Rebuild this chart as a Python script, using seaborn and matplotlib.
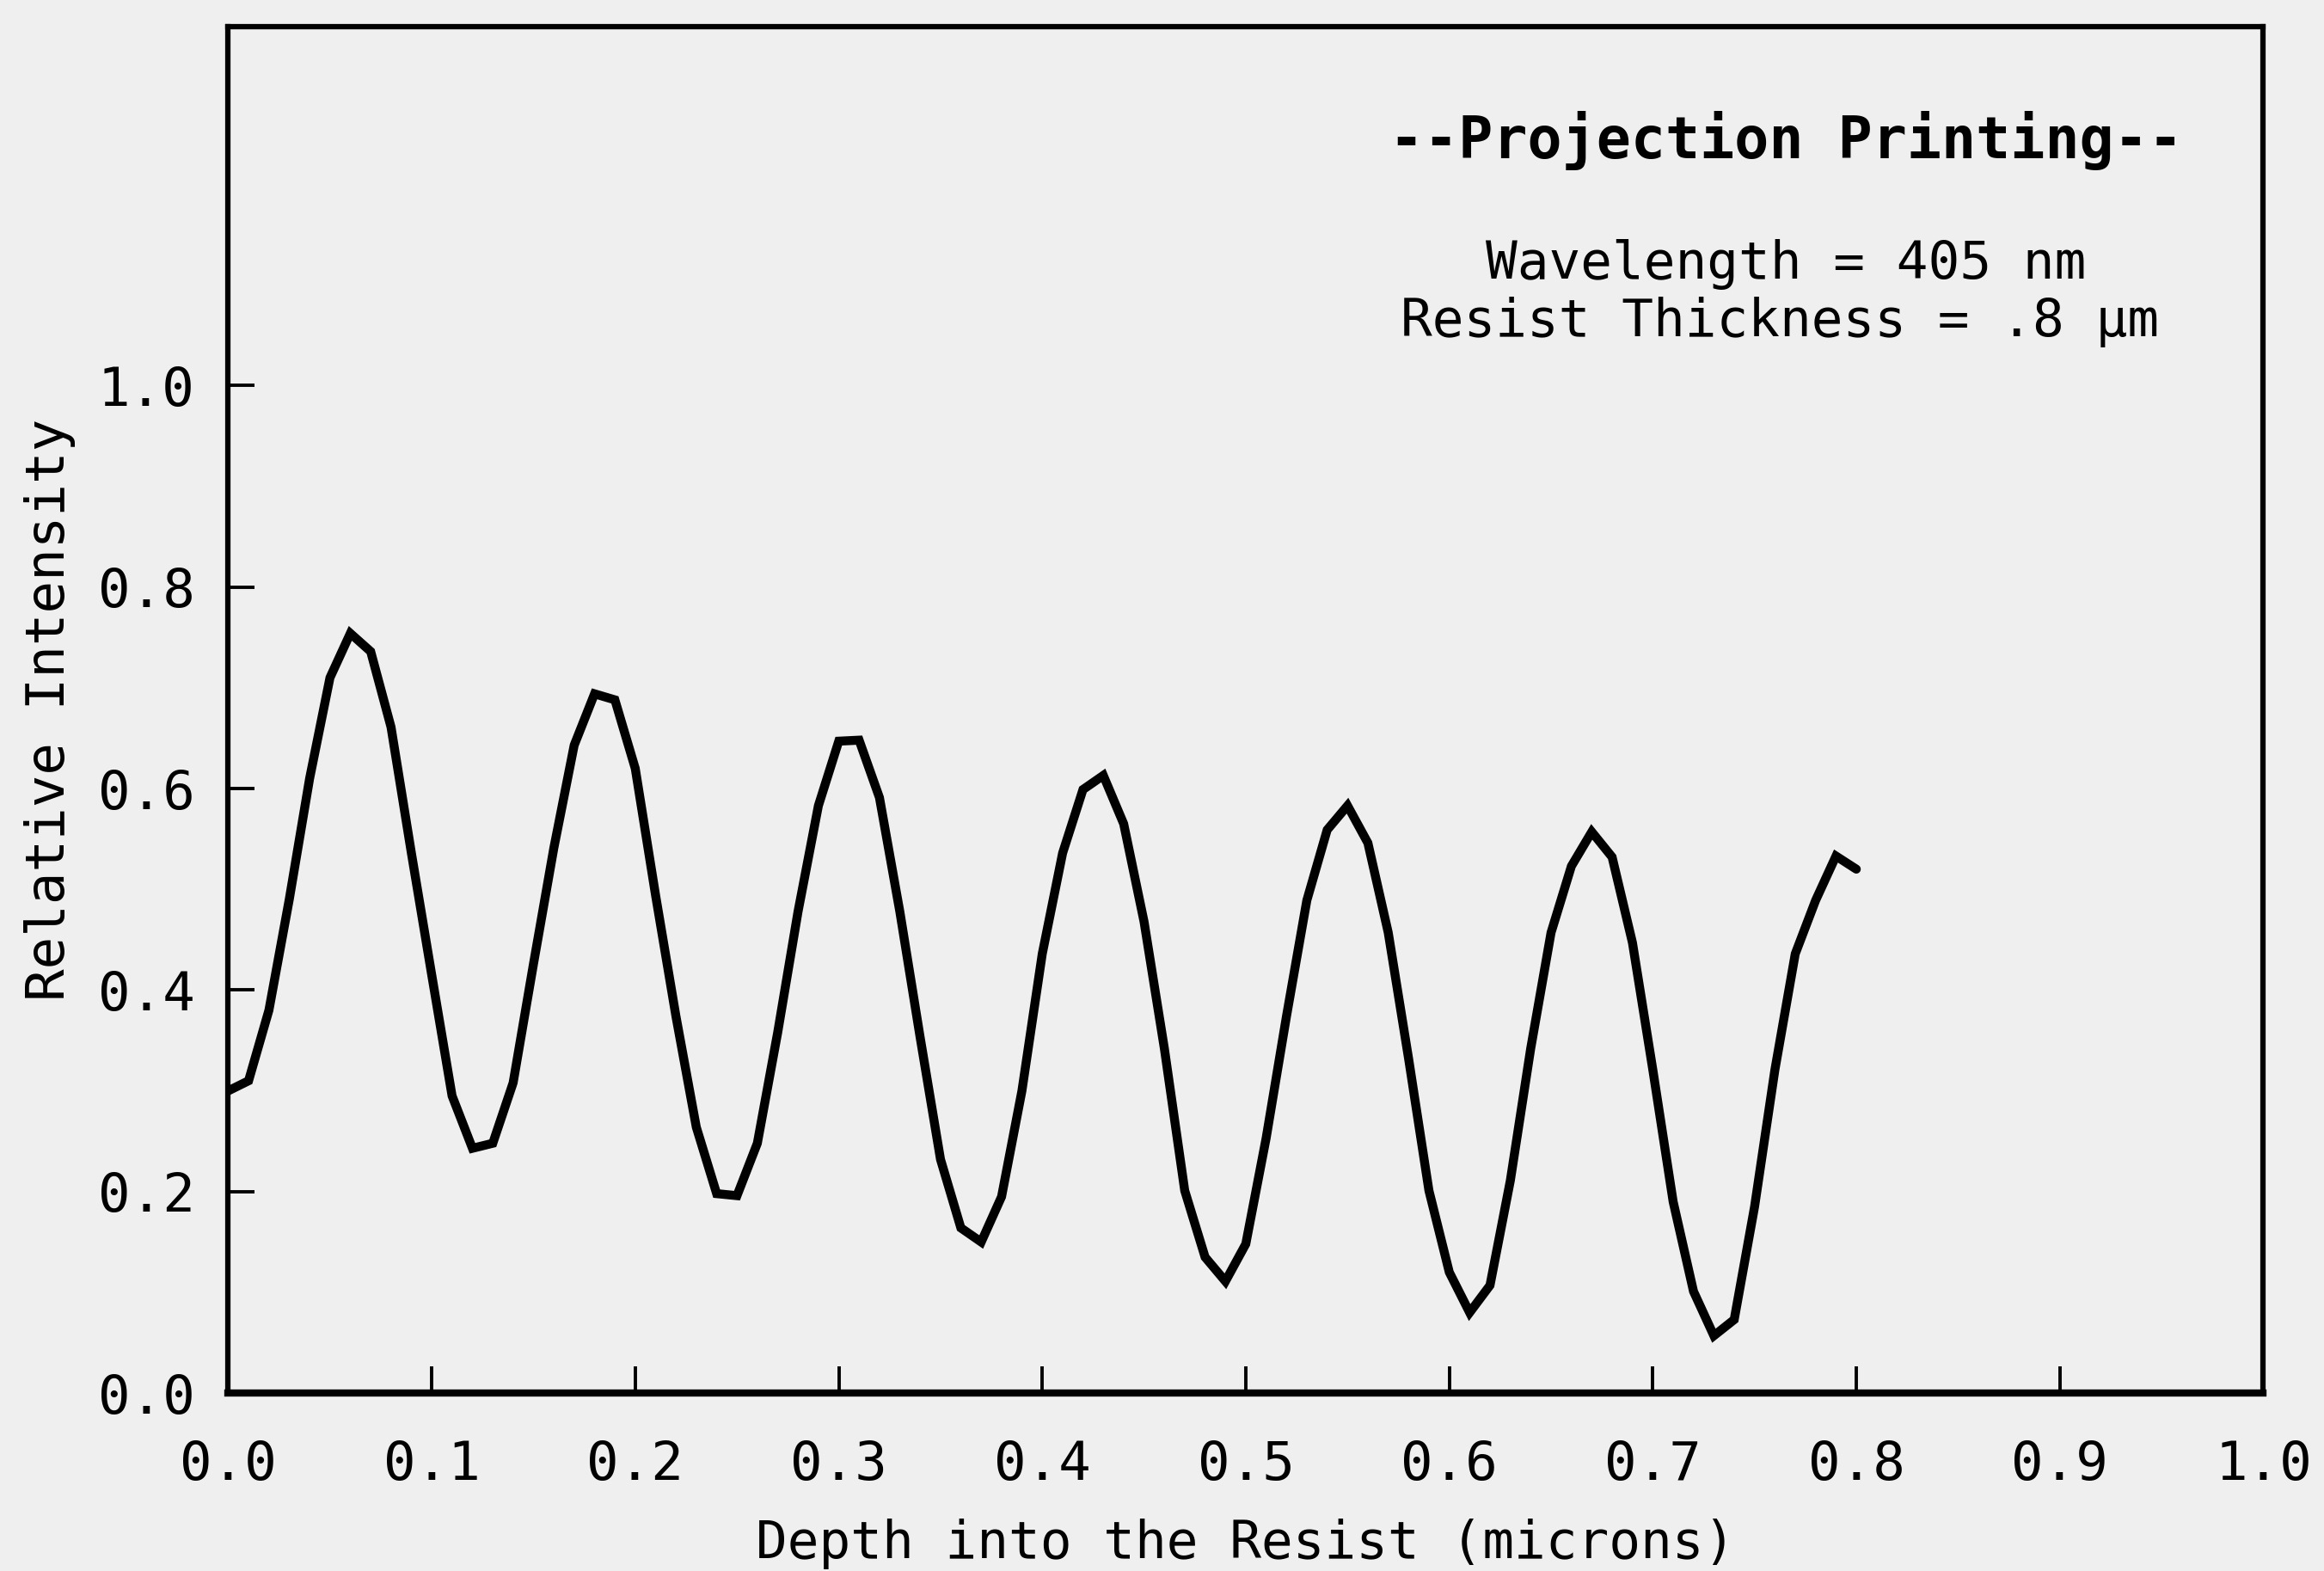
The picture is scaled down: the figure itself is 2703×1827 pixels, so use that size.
"""
Standing wave intensity inside a photoresist film (projection printing).
Redrawn with seaborn from an old plotter figure.
"""

import matplotlib
matplotlib.use("Agg")

import seaborn as sns
from matplotlib import pyplot as plt

# depth into the resist, microns (sampled every 0.01)
depth = [0.00, 0.01, 0.02, 0.03, 0.04, 0.05, 0.06, 0.07, 0.08, 0.09,
         0.10, 0.11, 0.12, 0.13, 0.14, 0.15, 0.16, 0.17, 0.18, 0.19,
         0.20, 0.21, 0.22, 0.23, 0.24, 0.25, 0.26, 0.27, 0.28, 0.29,
         0.30, 0.31, 0.32, 0.33, 0.34, 0.35, 0.36, 0.37, 0.38, 0.39,
         0.40, 0.41, 0.42, 0.43, 0.44, 0.45, 0.46, 0.47, 0.48, 0.49,
         0.50, 0.51, 0.52, 0.53, 0.54, 0.55, 0.56, 0.57, 0.58, 0.59,
         0.60, 0.61, 0.62, 0.63, 0.64, 0.65, 0.66, 0.67, 0.68, 0.69,
         0.70, 0.71, 0.72, 0.73, 0.74, 0.75, 0.76, 0.77, 0.78, 0.79,
         0.80]

# relative intensity
intensity = [0.300, 0.310, 0.380, 0.490, 0.610, 0.710, 0.754, 0.736, 0.661, 0.536,
             0.415, 0.295, 0.243, 0.248, 0.308, 0.426, 0.541, 0.643, 0.694, 0.688,
             0.620, 0.494, 0.374, 0.264, 0.198, 0.196, 0.248, 0.358, 0.478, 0.583,
             0.647, 0.648, 0.591, 0.478, 0.353, 0.232, 0.164, 0.150, 0.195, 0.300,
             0.436, 0.536, 0.599, 0.613, 0.565, 0.468, 0.342, 0.201, 0.135, 0.111,
             0.148, 0.253, 0.374, 0.489, 0.559, 0.583, 0.546, 0.457, 0.332, 0.201,
             0.120, 0.080, 0.107, 0.211, 0.342, 0.457, 0.523, 0.557, 0.532, 0.447,
             0.321, 0.190, 0.101, 0.057, 0.073, 0.185, 0.321, 0.436, 0.489, 0.533,
             0.520]

x_ticks = [0.0, 0.1, 0.2, 0.3, 0.4, 0.5, 0.6, 0.7, 0.8, 0.9, 1.0]
y_ticks = [0.0, 0.2, 0.4, 0.6, 0.8, 1.0]

title_text = "--Projection Printing--"
info_lines = ["Wavelength = 405 nm", "Resist Thickness = .8 \u00b5m"]


def main():
    sns.set_style("ticks")
    plt.rcParams["font.family"] = ["DejaVu Sans Mono", "DejaVu Sans"]
    plt.rcParams["text.color"] = "black"
    plt.rcParams["axes.labelcolor"] = "black"
    paper = "#efefef"

    fig = plt.figure(figsize=(27.03, 18.27), dpi=100, facecolor=paper)
    ax = fig.add_axes([0.0982, 0.1132, 0.8757, 0.8698])
    ax.set_facecolor(paper)

    sns.lineplot(x=depth, y=intensity, color="black", linewidth=7.5,
                 ax=ax, solid_joinstyle="miter")

    ax.set_xlim(0, 1.0)
    ax.set_ylim(0, 1.356)
    ax.set_xticks(x_ticks)
    ax.set_xticklabels([f"{t:.1f}" for t in x_ticks])
    ax.set_yticks(y_ticks)
    ax.set_yticklabels([f"{t:.1f}" for t in y_ticks])

    ax.tick_params(direction="in", length=22, width=2.8, labelsize=45,
                   colors="black")
    ax.tick_params(axis="x", pad=39)
    ax.tick_params(axis="y", pad=28)

    for side in ["left", "right", "top"]:
        ax.spines[side].set_linewidth(4.5)
        ax.spines[side].set_color("black")
    ax.spines["bottom"].set_linewidth(6)
    ax.spines["bottom"].set_color("black")

    ax.set_xlabel("Depth into the Resist (microns)", fontsize=44,
                  va="center")
    ax.xaxis.set_label_coords(0.5, -0.1105)
    ax.set_ylabel("Relative Intensity", fontsize=45, va="center")
    ax.yaxis.set_label_coords(-0.0878, 0.5)

    ax.text(0.7655, 0.9165, title_text, transform=ax.transAxes,
            ha="center", va="center", fontsize=48, fontweight="bold")
    ax.text(0.7655, 0.826, info_lines[0], transform=ax.transAxes,
            ha="center", va="center", fontsize=44)
    ax.text(0.7625, 0.784, info_lines[1], transform=ax.transAxes,
            ha="center", va="center", fontsize=44)

    fig.savefig("out.png", dpi=100, facecolor=paper)


if __name__ == "__main__":
    main()
